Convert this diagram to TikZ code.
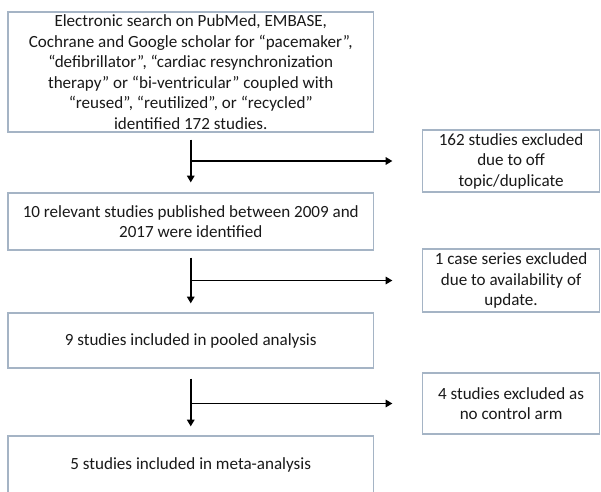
\documentclass[tikz,border=0pt]{standalone}
\usepackage{fontspec}
\setmainfont{Carlito}
\usetikzlibrary{arrows.meta}
\definecolor{boxline}{RGB}{165,180,197}
\definecolor{txt}{RGB}{25,25,25}
\tikzset{
  box/.style={draw=boxline, line width=0.9pt, inner sep=0pt, align=center,
    text=txt, font=\fontsize{12.8pt}{15.4pt}\selectfont},
  leftbox/.style={box, minimum width=274.1pt},
  rightbox/.style={box, minimum width=132.75pt},
  flow/.style={line width=1.4pt, -{Triangle[length=5pt,width=5.5pt]}},
}
\begin{document}
\begin{tikzpicture}[x=0.75pt,y=-0.75pt]
\clip (0,0) rectangle (601,492);
\fill[white] (0,0) rectangle (601,492);
\node[leftbox, minimum height=90pt] (b1) at (190.75,72)
  {Electronic search on PubMed, EMBASE,\\
   Cochrane and Google scholar for “pacemaker”,\\
   “defibrillator”, “cardiac resynchronization\\
   therapy” or “bi-ventricular” coupled with\\
   “reused”, “reutilized”, or “recycled”\\
   identified 172 studies.};
\node[leftbox, minimum height=42.75pt] (b3) at (190.75,221.5)
  {10 relevant studies published between 2009 and\\2017 were identified};
\node[leftbox, minimum height=41.25pt] (b5) at (190.75,340.5)
  {9 studies included in pooled analysis};
\node[leftbox, minimum height=42.75pt] (b7) at (190.75,464.5)
  {5 studies included in meta-analysis};
\node[rightbox, minimum height=46.5pt] (b2) at (511.1,161)
  {162 studies excluded\\due to off\\topic/duplicate};
\node[rightbox, minimum height=47.25pt] (b4) at (511.1,280.5)
  {1 case series excluded\\due to availability of\\update.};
\node[rightbox, minimum height=45.75pt] (b6) at (511.1,403.5)
  {4 studies excluded as\\no control arm};
% vertical flows
\draw[flow] ([yshift=-5.25pt]b1.south) -- ([yshift=7.5pt]b3.north);
\draw[flow] ([yshift=-5.25pt]b3.south) -- ([yshift=6.75pt]b5.north);
\draw[flow] ([yshift=-7.5pt]b5.south) -- ([yshift=6.75pt]b7.north);
% side branches
\draw[flow] (b1.south |- b2.west) -- ([xshift=-22.2pt]b2.west);
\draw[flow] (b3.south |- b4.west) -- ([xshift=-22.2pt]b4.west);
\draw[flow] (b5.south |- b6.west) -- ([xshift=-22.2pt]b6.west);
\end{tikzpicture}
\end{document}
